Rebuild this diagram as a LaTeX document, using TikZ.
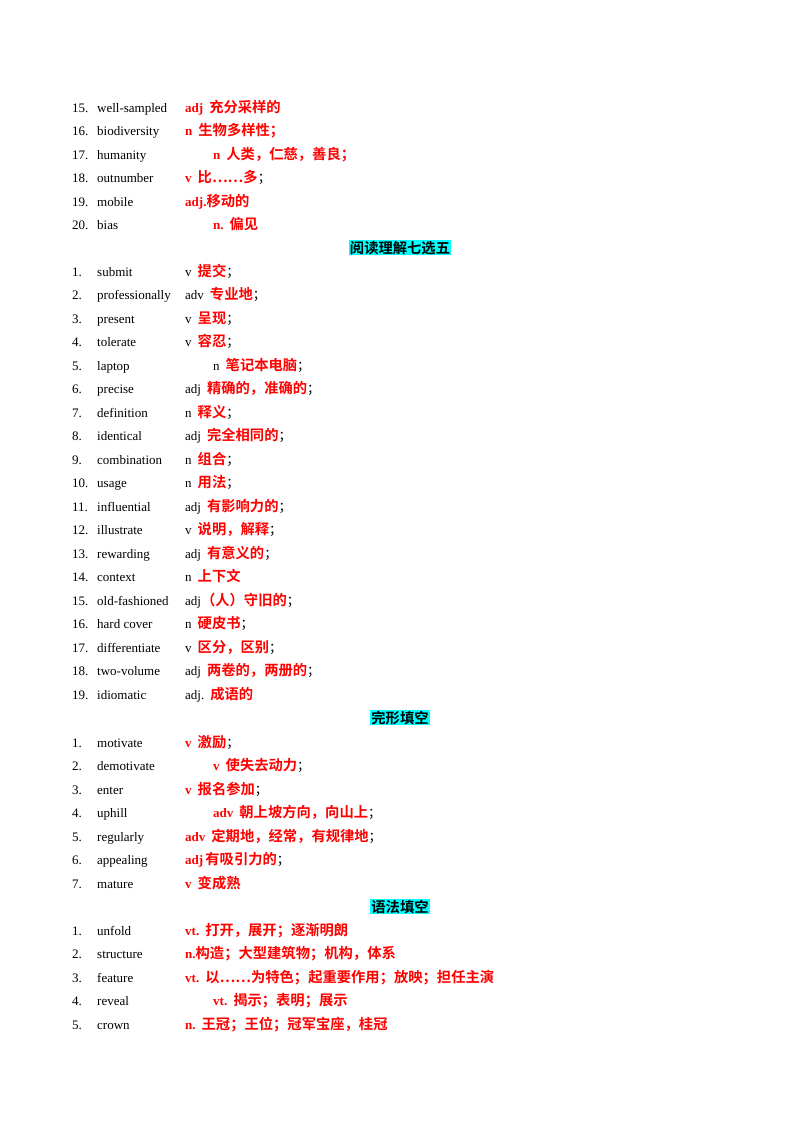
\documentclass[tikz,border=0pt]{standalone}
\usepackage{fontspec}
\setmainfont{Liberation Serif}
\newfontfamily\cjk{Noto Sans CJK SC}[BoldFont={* Bold}]
\definecolor{hl}{RGB}{0,255,255}
\newcommand{\rd}[1]{\textcolor{red}{\bfseries #1}}
\newcommand{\zh}[1]{\textcolor{red}{\fontsize{14.3}{15}\cjk\bfseries #1}}
\begin{document}
\begin{tikzpicture}[x=1pt,y=-1pt,font=\fontsize{13}{15}\selectfont,
  t/.style={anchor=base west,inner sep=0pt},
  head/.style={anchor=base,inner sep=1pt,fill=hl,font=\fontsize{14.3}{15}\selectfont\cjk\bfseries}]
\useasboundingbox (0,0) rectangle (800,1132);
\newcommand{\row}[5]{%
  \node[t] (n#1) at (72,#2) {#3};
  \node[t] (w#1) at (97,#2) {#4};
  \node[t] (m#1) at (#5) {\strut\csname mm#1\endcsname};}
\newcommand{\E}[6]{\expandafter\def\csname mm#1\endcsname{#6}\row{#1}{#2}{#3}{#4}{#5,#2}}
\def\s{\hspace{6pt}}
\E{a15}{112}{15.}{well-sampled}{185}{\rd{adj}\s\zh{充分采样的}}
\E{a16}{135.5}{16.}{biodiversity}{185}{\rd{n}\s\zh{生物多样性；}}
\E{a17}{159}{17.}{humanity}{213}{\rd{n}\s\zh{人类，仁慈，善良；}}
\E{a18}{182.5}{18.}{outnumber}{185}{\rd{v}\s\zh{比……多}{\cjk；}}
\E{a19}{206}{19.}{mobile}{185}{\rd{adj.}\zh{移动的}}
\E{a20}{229.5}{20.}{bias}{213}{\rd{n.}\s\zh{偏见}}
\node[head] (h1) at (400,253) {阅读理解七选五};
\E{b1}{276}{1.}{submit}{185}{v\s\zh{提交}{\cjk；}}
\E{b2}{299.5}{2.}{professionally}{185}{adv\s\zh{专业地}{\cjk；}}
\E{b3}{323}{3.}{present}{185}{v\s\zh{呈现}{\cjk；}}
\E{b4}{346.5}{4.}{tolerate}{185}{v\s\zh{容忍}{\cjk；}}
\E{b5}{370}{5.}{laptop}{213}{n\s\zh{笔记本电脑}{\cjk；}}
\E{b6}{393.5}{6.}{precise}{185}{adj\s\zh{精确的，准确的}{\cjk；}}
\E{b7}{417}{7.}{definition}{185}{n\s\zh{释义}{\cjk；}}
\E{b8}{440.5}{8.}{identical}{185}{adj\s\zh{完全相同的}{\cjk；}}
\E{b9}{464}{9.}{combination}{185}{n\s\zh{组合}{\cjk；}}
\E{b10}{487.5}{10.}{usage}{185}{n\s\zh{用法}{\cjk；}}
\E{b11}{511}{11.}{influential}{185}{adj\s\zh{有影响力的}{\cjk；}}
\E{b12}{534.5}{12.}{illustrate}{185}{v\s\zh{说明，解释}{\cjk；}}
\E{b13}{558}{13.}{rewarding}{185}{adj\s\zh{有意义的}{\cjk；}}
\E{b14}{581.5}{14.}{context}{185}{n\s\zh{上下文}}
\E{b15}{605}{15.}{old-fashioned}{185}{adj\zh{（人）守旧的}{\cjk；}}
\E{b16}{628.5}{16.}{hard cover}{185}{n\s\zh{硬皮书}{\cjk；}}
\E{b17}{652}{17.}{differentiate}{185}{v\s\zh{区分，区别}{\cjk；}}
\E{b18}{675.5}{18.}{two-volume}{185}{adj\s\zh{两卷的，两册的}{\cjk；}}
\E{b19}{699}{19.}{idiomatic}{185}{adj.\s\zh{成语的}}
\node[head] (h2) at (400,723) {完形填空};
\E{c1}{747}{1.}{motivate}{185}{\rd{v}\s\zh{激励}{\cjk；}}
\E{c2}{770.5}{2.}{demotivate}{213}{\rd{v}\s\zh{使失去动力}{\cjk；}}
\E{c3}{794}{3.}{enter}{185}{\rd{v}\s\zh{报名参加}{\cjk；}}
\E{c4}{817.5}{4.}{uphill}{213}{\rd{adv}\s\zh{朝上坡方向，向山上}{\cjk；}}
\E{c5}{841}{5.}{regularly}{185}{\rd{adv}\s\zh{定期地，经常，有规律地}{\cjk；}}
\E{c6}{864.5}{6.}{appealing}{185}{\rd{adj}\,\zh{有吸引力的}{\cjk；}}
\E{c7}{888}{7.}{mature}{185}{\rd{v}\s\zh{变成熟}}
\node[head] (h3) at (400,912) {语法填空};
\E{d1}{935}{1.}{unfold}{185}{\rd{vt.}\s\zh{打开，展开；逐渐明朗}}
\E{d2}{958.5}{2.}{structure}{185}{\rd{n.}\zh{构造；大型建筑物；机构，体系}}
\E{d3}{982}{3.}{feature}{185}{\rd{vt.}\s\zh{以……为特色；起重要作用；放映；担任主演}}
\E{d4}{1005.5}{4.}{reveal}{213}{\rd{vt.}\s\zh{揭示；表明；展示}}
\E{d5}{1029}{5.}{crown}{185}{\rd{n.}\s\zh{王冠；王位；冠军宝座，桂冠}}
\end{tikzpicture}
\end{document}
